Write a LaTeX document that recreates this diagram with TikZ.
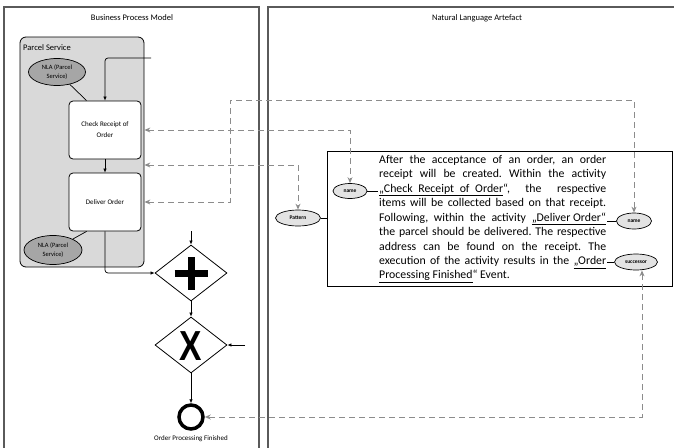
\documentclass[tikz,border=0pt]{standalone}
\usepackage{fontspec}
\setmainfont{Carlito}
\newfontfamily\xfont{Liberation Sans}
\usetikzlibrary{shapes.geometric,arrows.meta}
\definecolor{panelc}{HTML}{5A5A5A}
\definecolor{lanefill}{HTML}{D9D9D9}
\definecolor{nlafill}{HTML}{A6A6A6}
\definecolor{tagfill}{HTML}{E3E3E3}
\definecolor{dashc}{HTML}{8C8C8C}
\newcommand{\ulw}[1]{\underline{#1}}
\tikzset{
  paneltitle/.style={font=\fontsize{8.5}{10}\selectfont},
  taskbox/.style={draw, fill=white, rounded corners=4pt, minimum width=72pt, minimum height=58pt, line width=0.8pt, align=center, font=\fontsize{7}{11}\selectfont, inner sep=1pt},
  nla/.style={draw, ellipse, fill=nlafill, line width=0.7pt, align=center, font=\fontsize{6.5}{9}\selectfont, inner sep=0pt},
  tag/.style={draw, ellipse, fill=tagfill, line width=0.7pt, font=\fontsize{5.5}{6}\selectfont\bfseries, inner sep=0pt},
  gateway/.style={draw, diamond, fill=white, minimum width=72pt, minimum height=56pt, inner sep=0pt, line width=0.8pt},
  flow/.style={line width=0.7pt, -{Latex[length=4pt,width=3.5pt]}},
  assoc/.style={line width=0.7pt},
  trace/.style={draw=dashc, line width=0.9pt, dash pattern=on 6pt off 4pt, {Stealth[open,length=6pt,width=5pt]}-{Stealth[open,length=6pt,width=5pt]}},
}
\begin{document}
\frenchspacing
\begin{tikzpicture}[x=1pt,y=-1pt]
\useasboundingbox (0,0) rectangle (674,447);
\begin{scope}
\clip (0,0) rectangle (674,447);
\draw[panelc, line width=1.1pt] (4,7) rectangle (259,470);
\draw[panelc, line width=1.1pt] (268,7) rectangle (690,470);
\end{scope}
\node[paneltitle] (t1title) at (132,18) {Business Process Model};
\node[paneltitle] (t2title) at (477,18) {Natural Language Artefact};

% lane
\node[draw, fill=lanefill, rounded corners=6pt, line width=0.8pt, minimum width=124pt, minimum height=230pt, inner sep=0pt] (lane) at (82,152) {};
\node[anchor=west, font=\fontsize{8.5}{10}\selectfont, inner sep=0pt] (lanelabel) at (23,48) {Parcel Service};

% tasks
\node[taskbox] (t1) at (105,130) {Check Receipt of\\Order};
\node[taskbox] (t2) at (105,202) {Deliver Order};
\node[nla, minimum width=57pt, minimum height=27pt] (nla1) at (57,72) {NLA (Parcel\\Service)};
\node[nla, minimum width=58pt, minimum height=29pt] (nla2) at (53,250) {NLA (Parcel\\Service)};
\draw[assoc] (nla1) -- ([xshift=18pt]t1.north west);
\draw[assoc] (nla2) -- ([xshift=18pt]t2.south west);

% gateways
\node[gateway] (pg) at (191,273) {};
\draw[line width=7pt] ([xshift=-16.5pt]pg.center) -- ([xshift=16.5pt]pg.center);
\draw[line width=7pt] ([yshift=-16.5pt]pg.center) -- ([yshift=16.5pt]pg.center);
\node[gateway] (xg) at (191,345) {};
\node[inner sep=0pt, font=\xfont\bfseries\fontsize{42}{42}\selectfont] (xlab) at (191,346) {\scalebox{0.8}[1]{X}};
\node[draw, circle, line width=3.5pt, minimum size=24pt, inner sep=0pt] (ev) at (191,417) {};
\node[font=\fontsize{7}{8}\selectfont] (evlab) at (191,439) {Order Processing Finished};

% flows
\coordinate (in1) at (151,58);
\coordinate (in2) at (191,231);
\coordinate (in3) at (245,345);
\draw[flow, rounded corners=3pt] (in1) -| (t1.north);
\draw[flow] (t1.south) -- (t2.north);
\draw[flow, rounded corners=3pt] (t2.south) |- (pg.west);
\draw[flow] (in2) -- (pg.north);
\draw[flow] (pg.south) -- (xg.north);
\draw[flow] (in3) -- (xg.east);
\draw[flow] (xg.south) -- (ev.north);

% text box
\node[draw, line width=0.8pt, minimum width=345pt, minimum height=135pt, inner sep=0pt] (tb) at (499.5,218.5) {};
\node[anchor=north west, inner sep=0pt] (txt) at (379,155) {\parbox{227pt}{\fontsize{11.8}{14.45}\selectfont
\makebox[227pt][s]{After the acceptance of an order, an order}\\
\makebox[227pt][s]{receipt will be created. Within the activity}\\
\makebox[227pt][s]{\ulw{\makebox[124pt][s]{„Check Receipt of Order}}“, the respective}\\
\makebox[227pt][s]{items will be collected based on that receipt.}\\
\makebox[227pt][s]{Following, within the activity \ulw{„Deliver Order“}}\\
\makebox[227pt][s]{the parcel should be delivered. The respective}\\
\makebox[227pt][s]{address can be found on the receipt. The}\\
\makebox[227pt][s]{execution of the activity results in the \ulw{„Order}}\\
\ulw{Processing Finished}“ Event.}};

% tags
\node[tag, minimum width=34pt, minimum height=15pt] (name1) at (350,191) {name};
\node[tag, minimum width=45pt, minimum height=16pt] (pat) at (298,218) {Pattern};
\node[tag, minimum width=35pt, minimum height=16pt] (name2) at (634,221) {name};
\node[tag, minimum width=43pt, minimum height=16pt] (succ) at (636,262) {successor};
\coordinate (a1) at (378,191);
\coordinate (a2) at (607,221);
\coordinate (a3) at (607,262);
\draw[assoc] (name1.east) -- (a1);
\draw[assoc] (pat.east) -- (tb.west |- pat.east);
\draw[assoc] (a2) -- (name2.west);
\draw[assoc] (a3) -- (succ.west);

% trace links
\draw[trace] (lane.east |- t1.east) -- (350,130) -- (name1.north);
\draw[trace] (lane.east |- t2.east) -- (230,202) -- (230,100) -- (634,100) -- (name2.north);
\draw[trace] (lane.east |- 0,165) -- (298,165) -- (pat.north);
\draw[trace] ([xshift=6pt]succ.south) -- (642,417) -- (ev.east);
\end{tikzpicture}
\end{document}
